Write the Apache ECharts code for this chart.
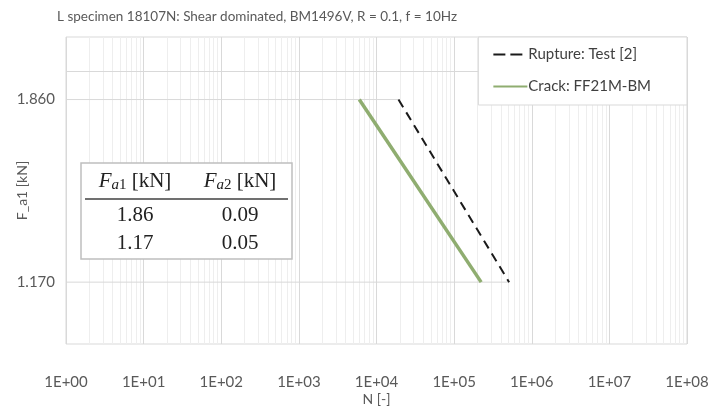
<!DOCTYPE html>
<html>
<head>
<meta charset="utf-8">
<script src="https://cdn.jsdelivr.net/npm/echarts@6/dist/echarts.min.js"></script>
<style>
  html, body { margin: 0; padding: 0; background: #fff; }
  #chart { width: 713px; height: 408px; }
</style>
</head>
<body>
<div id="chart"></div>
<script>
// S-N curves: cycles N (log) against load amplitude F_a1 (log)
const titleText = 'L specimen 18107N: Shear dominated, BM1496V, R = 0.1, f = 10Hz';
const loadLevels = [1.86, 1.17];            // F_a1 [kN]
const secondLoad = [0.09, 0.05];            // F_a2 [kN]
const ruptureCycles = [1.92e4, 5.11e5];     // Rupture: Test [2]
const crackCycles = [6.0e3, 2.23e5];        // Crack: FF21M-BM
const yTickValues = [1.17, 1.86];
const seriesNames = ['Rupture: Test [2]', 'Crack: FF21M-BM'];

const FONT = 'Lato';
const TEXT = '#595959';
const MAJOR = '#d9d9d9';
const MINOR = '#eeeeee';
const Y_MIN = 1, Y_MAX = 2.18;

// minor grid lines at 2..9 x 10^e, plus the horizontal line at 2
const gridSegments = [];
for (let e = 0; e < 8; e++) {
  for (let k = 2; k <= 9; k++) {
    const v = k * Math.pow(10, e);
    gridSegments.push({ coords: [[v, Y_MIN], [v, Y_MAX]], lineStyle: { color: MINOR } });
  }
}
gridSegments.push({ coords: [[1, 2], [1e8, 2]], lineStyle: { color: MAJOR } });

const chart = echarts.init(document.getElementById('chart'), null, { renderer: 'canvas' });

const option = {
  animation: false,
  backgroundColor: '#fff',
  textStyle: { fontFamily: FONT },
  title: {
    text: titleText,
    left: 52, top: 5,
    textStyle: { fontFamily: FONT, fontSize: 13.5, fontWeight: 'normal', color: TEXT }
  },
  grid: {
    left: 66, right: 26, top: 37, bottom: 64,
    containLabel: false, outerBoundsMode: 'none',
    show: true, borderColor: MAJOR, borderWidth: 1, backgroundColor: 'transparent'
  },
  legend: {
    data: [
      { name: seriesNames[0], lineStyle: { type: [12, 5], width: 2 } },
      { name: seriesNames[1] }
    ],
    orient: 'vertical',
    right: 26, top: 37,
    padding: [10, 36, 11, 14],
    itemGap: 17,
    itemWidth: 34, itemHeight: 14,
    itemStyle: { opacity: 0 },
    backgroundColor: '#fff',
    borderColor: MAJOR, borderWidth: 1,
    textStyle: { fontFamily: FONT, fontSize: 15, color: '#404040', padding: [0, 0, 0, -4] }
  },
  xAxis: {
    type: 'log', logBase: 10, min: 1, max: 1e8,
    name: 'N [-]', nameLocation: 'middle', nameGap: 48, nameMoveOverlap: false,
    nameTextStyle: { fontFamily: FONT, fontSize: 14, color: TEXT },
    axisLine: { show: false },
    axisTick: { show: false },
    axisLabel: {
      margin: 31, fontFamily: FONT, fontSize: 15, color: TEXT,
      formatter: v => {
        const e = Math.round(Math.log10(v));
        return '1E+' + (e < 10 ? '0' + e : e);
      }
    },
    splitLine: { show: true, lineStyle: { color: MAJOR, width: 1 } }
  },
  yAxis: {
    type: 'log', logBase: 10, min: Y_MIN, max: Y_MAX,
    name: 'F_a1 [kN]', nameLocation: 'middle', nameGap: 37, nameMoveOverlap: false,
    nameTextStyle: { fontFamily: FONT, fontSize: 14, color: TEXT },
    axisLine: { show: false },
    axisTick: { show: false },
    axisLabel: {
      customValues: yTickValues,
      margin: 11, fontFamily: FONT, fontSize: 15, color: TEXT,
      formatter: v => Number(v).toFixed(3)
    },
    splitLine: { show: false }
  },
  series: [
    {
      name: 'grid', type: 'lines', coordinateSystem: 'cartesian2d',
      silent: true, z: 0, polyline: false,
      lineStyle: { width: 1, opacity: 1, curveness: 0 },
      data: gridSegments
    },
    {
      name: 'level-high', type: 'line', silent: true, symbol: 'none', z: 1,
      lineStyle: { color: MAJOR, width: 1 },
      data: [[1, loadLevels[0]], [ruptureCycles[0], loadLevels[0]]]
    },
    {
      name: 'level-low', type: 'line', silent: true, symbol: 'none', z: 1,
      lineStyle: { color: MAJOR, width: 1 },
      data: [[1, loadLevels[1]], [ruptureCycles[1], loadLevels[1]]]
    },
    {
      name: seriesNames[0], type: 'line', symbol: 'none', z: 3,
      color: '#1a1a1a',
      lineStyle: { color: '#1a1a1a', width: 2, type: [9, 6] },
      data: ruptureCycles.map((n, i) => [n, loadLevels[i]])
    },
    {
      name: seriesNames[1], type: 'line', symbol: 'none', z: 3,
      color: '#8fad70',
      lineStyle: { color: '#8fad70', width: 3.5 },
      data: crackCycles.map((n, i) => [n, loadLevels[i]])
    }
  ],
  graphic: (() => {
    const els = [];
    const x0 = 81, y0 = 163, w = 211, h = 96;
    const c1 = 135, c2 = 240;
    els.push({ type: 'rect', z: 50, shape: { x: x0, y: y0, width: w, height: h },
      style: { fill: '#fff', stroke: '#bfbfbf', lineWidth: 1.5 } });
    els.push({ type: 'line', z: 51, shape: { x1: x0 + 4, y1: 199, x2: x0 + w - 4, y2: 199 },
      style: { stroke: '#404040', lineWidth: 1.5 } });
    const rich = {
      i: { fontFamily: 'Liberation Serif', fontStyle: 'italic', fontSize: 21, fill: '#222' },
      s: { fontFamily: 'Liberation Serif', fontStyle: 'italic', fontSize: 15, fill: '#222', padding: [9, 0, 0, 0] },
      d: { fontFamily: 'Liberation Serif', fontSize: 15, fill: '#222', padding: [9, 0, 0, 0] },
      n: { fontFamily: 'Liberation Serif', fontSize: 21, fill: '#222' }
    };
    [['1', c1], ['2', c2]].forEach(([idx, cx]) => {
      els.push({ type: 'text', z: 52, x: cx, y: 181,
        style: { text: '{i|F}{s|a}{d|' + idx + '}{n| [kN]}', rich: rich, align: 'center', verticalAlign: 'middle' } });
    });
    loadLevels.forEach((v, i) => {
      const y = 215 + i * 28;
      els.push({ type: 'text', z: 52, x: c1, y: y,
        style: { text: v.toFixed(2), font: '21px "Liberation Serif"', fill: '#222', align: 'center', verticalAlign: 'middle' } });
      els.push({ type: 'text', z: 52, x: c2, y: y,
        style: { text: secondLoad[i].toFixed(2), font: '21px "Liberation Serif"', fill: '#222', align: 'center', verticalAlign: 'middle' } });
    });
    return els;
  })()
};

chart.setOption(option);
</script>
</body>
</html>
